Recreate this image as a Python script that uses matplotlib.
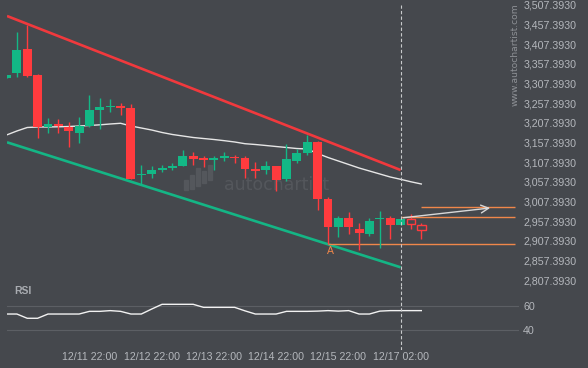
import matplotlib
matplotlib.use('Agg')
import matplotlib.pyplot as plt
from matplotlib.patches import Rectangle

# ---------------- data ----------------
opens  = [3322, 3333, 3395, 3328, 3196, 3204, 3196, 3182, 3199, 3240,
          3247, 3250, 3246, 3074, 3077, 3088, 3093, 3098, 3123, 3116,
          3114, 3117, 3121, 3117, 3089, 3088, 3098, 3065, 3110, 3131,
          3159, 3014, 2943, 2966, 2938, 2925, 2962, 2966, 2948, 2963, 2948]
highs  = [3329, 3437, 3456, 3331, 3219, 3216, 3210, 3223, 3277, 3270,
          3267, 3257, 3255, 3100, 3098, 3100, 3105, 3138, 3134, 3123,
          3123, 3133, 3126, 3123, 3107, 3110, 3098, 3154, 3141, 3176,
          3161, 3020, 2971, 2981, 2953, 2966, 2983, 2971, 2966, 2976, 2953]
lows   = [3321, 3323, 3323, 3170, 3182, 3181, 3147, 3157, 3196, 3192,
          3236, 3227, 3065, 3049, 3068, 3083, 3088, 3098, 3100, 3096,
          3088, 3110, 3105, 3066, 3067, 3077, 3034, 3060, 3105, 3126,
          2986, 2900, 2917, 2925, 2884, 2920, 2889, 2912, 2948, 2938, 2912]
closes = [3329, 3392, 3327, 3196, 3204, 3199, 3187, 3199, 3240, 3248,
          3250, 3245, 3065, 3077, 3088, 3093, 3098, 3123, 3115, 3114,
          3118, 3123, 3117, 3091, 3086, 3098, 3062, 3116, 3131, 3159,
          3014, 2943, 2966, 2943, 2928, 2958, 2964, 2948, 2963, 2950, 2935]
forecast_idx = [39, 40]   # hollow (forecast) candles

ma_values = [3176.4, 3186.6, 3195.5, 3196.8, 3196.8, 3197.3, 3198.0, 3199.3, 3200.6, 3202.3,
             3204.4, 3206.2, 3199.3, 3194.2, 3189.1, 3182.8, 3177.7, 3173.9, 3170.1, 3167.5,
             3165.0, 3162.0, 3158.7, 3154.3, 3152.3, 3149.8, 3147.2, 3144.7, 3142.1, 3140.9,
             3129.4, 3119.3, 3110.4, 3101.5, 3092.6, 3085.0, 3077.4, 3069.8, 3063.9, 3057.6, 3052.0]

rsi_values = [53.4, 53.4, 49.9, 49.9, 53.4, 53.4, 53.4, 53.4, 55.6, 55.6,
              56.2, 55.6, 53.4, 53.4, 57.5, 61.4, 61.4, 61.4, 61.4, 58.9,
              58.9, 58.9, 58.9, 56.0, 53.4, 53.4, 53.4, 55.6, 55.6, 55.6,
              55.8, 56.2, 55.8, 56.2, 53.4, 53.4, 55.8, 56.2, 56.2, 56.2, 56.2]

upper_line_x = [0.05, 38]
upper_line_y = [3478.7, 3087.5]
lower_line_x = [0.05, 38]
lower_line_y = [3157.9, 2840.4]

support_level = 2899.6
support_start = 31
resistance_level = 2967.4
resistance_start = 38
target_level = 2993.6
target_start = 40
levels_end = 49.0
arrow_from = (38, 2965.5)
arrow_to = (46.9, 2991.8)
pattern_point_label = 'A'
pattern_point = (31.2, 2882.6)
now_index = 38

price_ticks = [2807.393 + 50 * k for k in range(15)]
rsi_ticks = [40, 60]
time_tick_idx = [8, 14, 20, 26, 32, 38]
time_tick_labels = ['12/11 22:00', '12/12 22:00', '12/13 22:00',
                    '12/14 22:00', '12/15 22:00', '12/17 02:00']

# ---------------- style ----------------
W, H = 588, 368
BG = '#45484d'
GREEN = '#13b886'
RED = '#ff3b3e'
LINE_RED = '#f0393d'
LINE_GREEN = '#14b585'
ORANGE = '#f0874a'
TXT = '#b4b7bc'
FONT = ['Liberation Sans', 'DejaVu Sans']
plt.rcParams['font.family'] = FONT

fig = plt.figure(figsize=(W / 100, H / 100), dpi=100)
fig.patch.set_facecolor(BG)


def px_rect(l, t, r, b):
    return [l / W, 1 - b / H, (r - l) / W, (b - t) / H]


ax = fig.add_axes(px_rect(7, 0, 519, 286))
rax = fig.add_axes(px_rect(7, 286, 519, 350), sharex=ax)
for a in (ax, rax):
    a.set_facecolor('none')
    for s in a.spines.values():
        s.set_visible(False)

ax.set_xlim(0.048, 49.42)
ax.set_ylim(2792.9, 3519.33)
rax.set_ylim(23.8, 76.46)

# watermark (behind everything)
fig.text(277 / W, 1 - 185 / H, 'autochartist', ha='center', va='center',
         fontsize=12.5, color='#54575c', family='DejaVu Sans', zorder=-1)
for (bl, bt, bb) in [(184, 180, 190), (190, 175, 189), (196, 168, 186),
                     (202, 171, 183), (208, 165, 180)]:
    fig.patches.append(Rectangle((bl / W, 1 - bb / H), 4 / W, (bb - bt) / H,
                                 transform=fig.transFigure, color='#54575c',
                                 zorder=-1))
fig.text(515.5 / W, 1 - 3 / H, 'www.autochartist.com', rotation=90,
         ha='center', va='top', fontsize=6.6, color='#8e9196',
         family='DejaVu Sans')

# trend channel
ax.plot(upper_line_x, upper_line_y, color=LINE_RED, lw=1.9, zorder=2,
        solid_capstyle='butt')
ax.plot(lower_line_x, lower_line_y, color=LINE_GREEN, lw=1.9, zorder=2,
        solid_capstyle='butt')

# moving average
ax.plot(range(len(ma_values)), ma_values, color='#e6e6e6', lw=1.0, zorder=3)

# candles
bw = 0.86
for i, (o, h, l, c) in enumerate(zip(opens, highs, lows, closes)):
    col = GREEN if c >= o else RED
    bottom = min(o, c)
    height = max(abs(c - o), 3.0)
    if i in forecast_idx:
        ax.vlines(i, l, h, color=RED, lw=1.0, zorder=4)
        ax.bar(i, height, bw * 0.95, bottom, facecolor=BG, edgecolor=RED,
               lw=1.0, zorder=5)
    else:
        ax.vlines(i, l, h, color=col, lw=1.0, zorder=4)
        ax.bar(i, height, bw, bottom, color=col, lw=0, zorder=5)

# levels
ax.hlines(support_level, support_start, levels_end, color=ORANGE, lw=1.0, zorder=3)
ax.hlines(resistance_level, resistance_start, levels_end, color=ORANGE, lw=1.0, zorder=3)
ax.hlines(target_level, target_start, levels_end, color=ORANGE, lw=1.0, zorder=3)
ax.annotate('', xy=arrow_to, xytext=arrow_from,
            arrowprops=dict(arrowstyle='->,head_length=0.55,head_width=0.28',
                            color='#d8d8d8', lw=1.0), zorder=6)
ax.text(pattern_point[0], pattern_point[1], pattern_point_label, color=ORANGE,
        ha='center', va='center', fontsize=7.5, zorder=6)

# now line
ax.axvline(now_index, ymax=(3507.4 - 2792.9) / (3519.33 - 2792.9),
           color='#c8cacc', lw=0.8, ls=(0, (3, 2)), zorder=7)
rax.axvline(now_index, color='#c8cacc', lw=0.8, ls=(0, (3, 2)), zorder=7)

# RSI
for v in rsi_ticks:
    rax.axhline(v, color='#5c5f64', lw=0.8, zorder=1)
rax.plot(range(len(rsi_values)), rsi_values, color='#f2f2f2', lw=1.0, zorder=3)
fig.text(14 / W, 1 - 291 / H, 'RSI', ha='left', va='center', fontsize=7.5,
         fontweight='bold', color='#a9acb1')

# axes ticks
ax.yaxis.tick_right()
ax.set_yticks(price_ticks)
ax.set_yticklabels([f'{v:,.4f}' for v in price_ticks])
ax.tick_params(axis='y', length=0, pad=3, labelsize=7.7, labelcolor=TXT)
ax.tick_params(axis='x', length=0, labelbottom=False)

rax.yaxis.tick_right()
rax.set_yticks(rsi_ticks)
rax.set_yticklabels([str(v) for v in rsi_ticks])
rax.tick_params(axis='y', length=0, pad=3, labelsize=7.7, labelcolor=TXT)
rax.set_xticks(time_tick_idx)
rax.set_xticklabels(time_tick_labels)
rax.tick_params(axis='x', length=0, pad=1.5, labelsize=7.7, labelcolor=TXT)

fig.savefig('out.png', dpi=100, facecolor=BG)
